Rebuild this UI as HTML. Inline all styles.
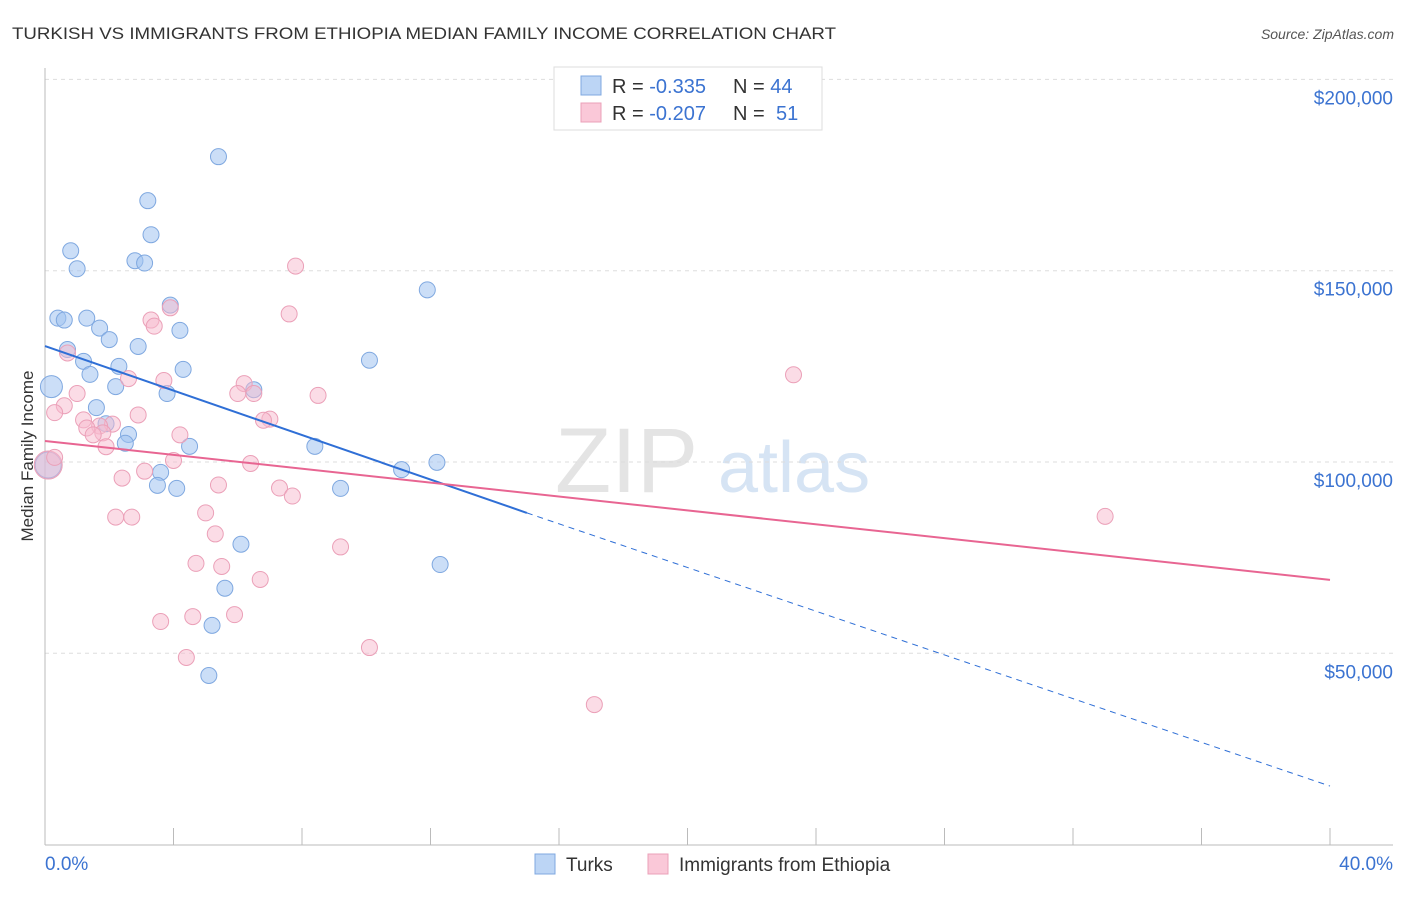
<!DOCTYPE html>
<html><head><meta charset="utf-8"><style>
body{margin:0;background:#fff;font-family:"Liberation Sans",sans-serif}
svg text{font-family:"Liberation Sans",sans-serif}
</style></head><body>
<svg id="c" width="1406" height="892">
<text x="12" y="39" font-size="17" fill="#333" textLength="824" lengthAdjust="spacingAndGlyphs">TURKISH VS IMMIGRANTS FROM ETHIOPIA MEDIAN FAMILY INCOME CORRELATION CHART</text>
<text x="1394" y="39" font-size="14" fill="#555" font-style="italic" text-anchor="end">Source: ZipAtlas.com</text>
<text x="33" y="456" font-size="17" fill="#333" text-anchor="middle" transform="rotate(-90 33 456)">Median Family Income</text>
<text x="555" y="492" font-size="92" fill="#e4e4e4" font-family="Liberation Serif">ZIP</text>
<text x="718" y="492" font-size="72" fill="#d6e4f4">atlas</text>
<g id="grid"></g><g id="pts"></g><g id="lines"></g>
<g>
<rect x="554" y="67" width="268" height="63" fill="#fff" stroke="#ddd"/>
<rect x="581" y="76" width="20" height="19" fill="#bcd5f5" stroke="#7fa8e0"/>
<rect x="581" y="103" width="20" height="19" fill="#fac8d8" stroke="#eba0b8"/>
<text x="612" y="93" font-size="20" fill="#333">R = <tspan fill="#3b73d1">-0.335</tspan><tspan x="733">N = </tspan><tspan fill="#3b73d1">44</tspan></text>
<text x="612" y="120" font-size="20" fill="#333">R = <tspan fill="#3b73d1">-0.207</tspan><tspan x="733">N = </tspan><tspan fill="#3b73d1" x="776">51</tspan></text>
</g>
<g>
<rect x="535" y="854" width="20" height="20" fill="#bcd5f5" stroke="#7fa8e0"/>
<text x="566" y="871" font-size="19" fill="#333">Turks</text>
<rect x="648" y="854" width="20" height="20" fill="#fac8d8" stroke="#eba0b8"/>
<text x="679" y="871" font-size="19" fill="#333">Immigrants from Ethiopia</text>
</g>
</svg>
<script>
const yTicks=[50000,100000,150000,200000];
const yTickLabels=["$50,000","$100,000","$150,000","$200,000"];
const xEndLabels=["0.0%","40.0%"];
const turksX=[5.4,3.2,3.3,0.8,1.0,2.8,3.1,11.9,0.4,0.6,1.3,3.9,1.7,4.2,2.0,2.9,0.7,1.2,10.1,2.3,1.4,4.3,0.2,2.2,3.8,1.6,1.9,2.6,2.5,4.5,8.4,6.5,11.1,12.2,3.6,3.5,4.1,9.2,6.1,12.3,5.6,5.2,5.1,0.1];
const turksY=[179800,168300,159400,155200,150500,152600,152000,145000,137600,137100,137600,141000,135000,134400,132000,130200,129400,126300,126600,125000,122900,124200,119700,119700,117900,114200,110000,107200,104900,104100,104100,118900,98000,99900,97300,93900,93100,93100,78500,73200,67000,57300,44200,99200];
const ethX=[7.8,7.6,3.3,3.9,3.4,0.7,23.3,2.6,3.7,6.2,6.5,6.0,8.5,1.0,0.6,0.3,2.9,1.2,2.1,7.0,6.8,1.7,1.3,1.8,1.5,4.2,4.0,6.4,0.1,3.1,2.4,5.4,7.3,7.7,5.0,2.2,2.7,33.0,5.3,9.2,4.7,5.5,6.7,4.6,3.6,5.9,4.4,10.1,17.1,0.3,1.9];
const ethY=[151200,138700,137100,140300,135500,128500,122800,121800,121300,120500,117900,117900,117400,117900,114700,112900,112300,111000,109900,111200,110900,109400,108900,107600,107100,107100,100400,99600,99200,97600,95800,94000,93200,91100,86700,85600,85600,85800,81200,77800,73500,72700,69300,59600,58300,60100,48900,51500,36600,101200,104000];
const trendBlue=[130300,86700,15300];
const trendPink=[105500,69200];
const NS="http://www.w3.org/2000/svg";
const X=v=>45+v/40*1285, Y=v=>462-(v-100000)*191.3/50000;
function mk(t,a,p){const e=document.createElementNS(NS,t);for(const k in a)e.setAttribute(k,a[k]);p.appendChild(e);return e;}
const g=document.getElementById('grid');
yTicks.forEach((t,i)=>{
 const l=mk('line',{x1:45,x2:1393,y1:Y(t),y2:Y(t),stroke:'#ddd','stroke-dasharray':'4,4'},g);
 
 
 const tx=mk('text',{x:1393,y:Y(t)+25,'font-size':19,fill:'#3b73d1','text-anchor':'end'},g);
 tx.textContent=yTickLabels[i];
 
 
});
const ax=mk('line',{x1:45,x2:45,y1:68,y2:845,stroke:'#bbb'},g);


const bx=mk('line',{x1:45,x2:1393,y1:845,y2:845,stroke:'#bbb'},g);


for(let i=0;i<=10;i++){const t=mk('line',{x1:X(i*4),x2:X(i*4),y1:828,y2:845,stroke:'#bbb'},g);
 
 }
[[0,'start',45],[1,'end',1393]].forEach(([i,a,x])=>{const t=mk('text',{x:x,y:870,'font-size':19,fill:'#3b73d1','text-anchor':a},g);t.textContent=xEndLabels[i];
 
 });
const p=document.getElementById('pts');
turksX.forEach((x,i)=>{const c=mk('circle',{cx:X(x),cy:Y(turksY[i]),r:i==43?13:(i==22?11:8),fill:'rgba(160,195,240,0.55)',stroke:'#7fa8e0','stroke-width':1},p);
 
 });
ethX.forEach((x,i)=>{const c=mk('circle',{cx:X(x),cy:Y(ethY[i]),r:(i==28)?14:8,fill:'rgba(248,185,205,0.5)',stroke:'#eba0b8','stroke-width':1},p);
 
 });
const L=document.getElementById('lines');
const b1=mk('line',{x1:X(0),y1:Y(trendBlue[0]),x2:X(15),y2:Y(trendBlue[1]),stroke:'#2f6fd6','stroke-width':2},L);


const b2=mk('line',{x1:X(15),y1:Y(trendBlue[1]),x2:X(40),y2:Y(trendBlue[2]),stroke:'#2f6fd6','stroke-width':1,'stroke-dasharray':'6,5'},L);


const p1=mk('line',{x1:X(0),y1:Y(trendPink[0]),x2:X(40),y2:Y(trendPink[1]),stroke:'#e86592','stroke-width':2},L);


</script>
</body></html>
